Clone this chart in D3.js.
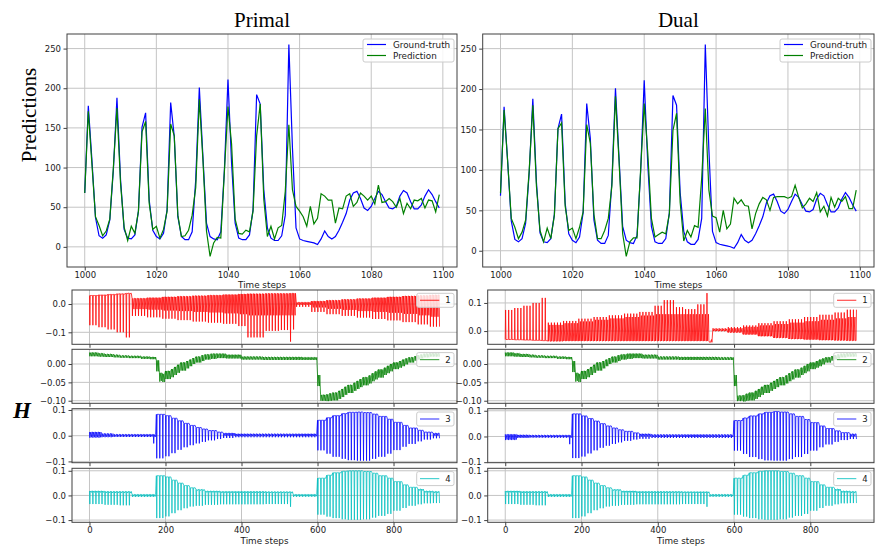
<!DOCTYPE html>
<html>
<head>
<meta charset="utf-8">
<script src="https://cdn.jsdelivr.net/npm/d3@7"></script>
<style>
  body { margin: 0; background: #fff; }
  svg { display: block; }
</style>
</head>
<body>
<svg id="fig" width="887" height="551"></svg>
<script>
// ---- top plots: time steps 1000..1099 ----
const firstStep = 1000;
const groundTruth = [68, 178, 110, 37, 14, 11, 15, 34, 97, 188,
  85, 22, 11, 10, 15, 45, 151, 169, 59, 21,
  13, 10, 17, 47, 182, 139, 38, 13, 9, 9,
  19, 85, 201, 114, 30, 13, 10, 9, 19, 97,
  211, 106, 30, 11, 9, 9, 15, 47, 192, 180,
  72, 24, 11, 8, 8, 14, 40, 255, 125, 24,
  10, 8, 7, 6, 5, 3, 10, 20, 13, 10,
  13, 21, 31, 42, 59, 68, 70, 61, 49, 46,
  51, 61, 70, 66, 57, 49, 48, 51, 64, 71,
  68, 57, 48, 48, 53, 64, 72, 66, 57, 49];
const predPrimal = [68, 171, 105, 38, 27, 14, 20, 35, 100, 175,
  80, 25, 8, 26, 17, 45, 145, 158, 55, 22,
  26, 11, 22, 45, 155, 140, 40, 13, 14, 21,
  40, 75, 186, 110, 20, -12, 5, 12, 11, 95,
  177, 130, 35, 17, 16, 21, 19, 45, 140, 180,
  60, 13, 26, 10, 24, 27, 70, 154, 72, 51,
  45, 38, 26, 51, 29, 36, 67, 64, 59, 59,
  30, 49, 48, 64, 67, 51, 56, 68, 64, 59,
  64, 54, 78, 56, 57, 61, 57, 50, 61, 42,
  55, 48, 59, 58, 61, 49, 59, 58, 44, 66];
const predDual = [71, 174, 110, 40, 29, 15, 23, 38, 100, 180,
  80, 25, 11, 28, 15, 44, 151, 158, 55, 25,
  28, 15, 29, 48, 156, 133, 45, 15, 15, 25,
  40, 80, 191, 110, 21, -7, 11, 16, 16, 100,
  182, 120, 40, 17, 20, 23, 21, 46, 149, 170,
  60, 12, 25, 17, 31, 29, 90, 176, 75, 43,
  41, 23, 50, 27, 33, 65, 58, 63, 56, 55,
  27, 46, 58, 66, 63, 50, 66, 67, 67, 67,
  65, 67, 81, 66, 53, 58, 65, 61, 72, 48,
  55, 43, 66, 54, 65, 61, 67, 52, 52, 75];
const topXTicks = [1000, 1020, 1040, 1060, 1080, 1100];
const topYTicks = [0, 50, 100, 150, 200, 250];

// ---- hidden state panels: time steps 0..921 ----
// rows: [from step, base level, inner dip, spike extreme]
const hLast = 921;
const hPeriod = 8;
const hPattern = [[0, 'base'], [1, 'spike'], [2, 'base'], [5, 'mid'], [6, 'base']];
const hXTicks = [0, 200, 400, 600, 800];

const h1Primal = [
  [0, 0.030, 0.030, -0.075], [24, 0.032, 0.031, -0.082], [48, 0.034, 0.033, -0.090],
  [72, 0.036, 0.035, -0.100], [96, 0.038, 0.037, -0.118], [110, 0.020, -0.018, -0.042],
  [150, 0.022, -0.020, -0.047], [190, 0.025, -0.023, -0.052], [230, 0.027, -0.025, -0.057],
  [270, 0.029, -0.028, -0.062], [310, 0.031, -0.030, -0.066], [350, 0.033, -0.033, -0.070],
  [390, 0.035, -0.036, -0.078], [412, 0.036, -0.040, -0.118], [460, 0.037, -0.040, -0.095],
  [500, 0.037, -0.040, -0.092], [526, 0.038, -0.040, -0.133], [536, 0.038, -0.040, -0.090],
  [544, 0.006, -0.003, -0.010], [580, 0.010, -0.012, -0.028], [620, 0.013, -0.017, -0.036],
  [660, 0.016, -0.021, -0.042], [700, 0.019, -0.025, -0.048], [740, 0.022, -0.028, -0.053],
  [780, 0.025, -0.031, -0.058], [820, 0.028, -0.035, -0.064], [860, 0.030, -0.040, -0.072],
  [890, 0.032, -0.045, -0.080]];
const h2Primal = [
  [0, 0.031, 0.021, 0.021], [20, 0.029, 0.020, 0.020], [40, 0.027, 0.019, 0.019],
  [60, 0.025, 0.018, 0.018], [80, 0.023, 0.017, 0.017], [100, 0.022, 0.016, 0.016],
  [130, 0.020, 0.014, 0.014], [160, 0.019, 0.013, 0.013], [176, 0.010, -0.020, -0.020],
  [184, -0.024, -0.046, -0.048], [190, -0.027, -0.049, -0.049], [200, -0.019, -0.041, -0.041],
  [210, -0.014, -0.036, -0.036], [220, -0.008, -0.030, -0.030], [230, -0.002, -0.024, -0.024],
  [240, 0.004, -0.018, -0.018], [250, 0.008, -0.012, -0.012], [260, 0.012, -0.006, -0.006],
  [270, 0.016, 0.000, 0.000], [280, 0.020, 0.004, 0.004], [290, 0.024, 0.008, 0.008],
  [300, 0.026, 0.012, 0.012], [315, 0.028, 0.014, 0.014], [330, 0.028, 0.016, 0.016],
  [360, 0.025, 0.015, 0.015], [400, 0.020, 0.012, 0.012], [450, 0.019, 0.011, 0.011],
  [560, 0.018, 0.011, 0.011], [600, -0.030, -0.060, -0.060], [608, -0.084, -0.100, -0.100],
  [620, -0.083, -0.101, -0.101], [630, -0.080, -0.100, -0.100], [640, -0.078, -0.099, -0.099],
  [650, -0.073, -0.095, -0.095], [660, -0.068, -0.090, -0.090], [670, -0.062, -0.084, -0.084],
  [680, -0.057, -0.079, -0.079], [690, -0.051, -0.073, -0.073], [700, -0.046, -0.068, -0.068],
  [710, -0.041, -0.063, -0.063], [720, -0.036, -0.058, -0.058], [730, -0.031, -0.053, -0.053],
  [740, -0.025, -0.047, -0.047], [750, -0.020, -0.042, -0.042], [760, -0.015, -0.037, -0.037],
  [770, -0.010, -0.030, -0.030], [780, -0.005, -0.025, -0.025], [790, 0.000, -0.020, -0.020],
  [800, 0.004, -0.014, -0.014], [810, 0.008, -0.010, -0.010], [820, 0.012, -0.006, -0.006],
  [830, 0.015, -0.001, -0.001], [840, 0.018, 0.004, 0.004], [850, 0.021, 0.009, 0.009],
  [860, 0.024, 0.012, 0.012], [870, 0.026, 0.015, 0.015], [880, 0.028, 0.018, 0.018],
  [895, 0.029, 0.020, 0.020]];
const h3Primal = [
  [0, 0.014, -0.006, -0.008], [30, 0.008, -0.004, -0.006], [60, 0.005, -0.003, -0.005],
  [168, 0.005, -0.005, -0.030], [176, 0.083, 0.083, -0.088], [200, 0.078, 0.078, -0.080],
  [216, 0.068, 0.068, -0.068], [232, 0.058, 0.058, -0.055], [248, 0.048, 0.048, -0.045],
  [264, 0.040, 0.040, -0.037], [280, 0.032, 0.032, -0.030], [296, 0.026, 0.026, -0.024],
  [312, 0.020, 0.020, -0.018], [330, 0.014, 0.014, -0.013], [350, 0.010, 0.000, -0.009],
  [380, 0.007, -0.002, -0.006], [600, 0.060, 0.060, -0.057], [620, 0.070, 0.070, -0.070],
  [640, 0.078, 0.078, -0.082], [660, 0.086, 0.086, -0.090], [680, 0.091, 0.091, -0.095],
  [700, 0.092, 0.092, -0.097], [720, 0.090, 0.090, -0.097], [740, 0.084, 0.084, -0.090],
  [760, 0.075, 0.075, -0.082], [780, 0.064, 0.064, -0.070], [800, 0.052, 0.052, -0.056],
  [820, 0.040, 0.040, -0.043], [840, 0.030, 0.030, -0.032], [860, 0.021, 0.021, -0.022],
  [880, 0.014, 0.014, -0.015], [900, 0.010, 0.000, -0.010]];
const h4Primal = [
  [0, 0.018, 0.012, -0.035], [40, 0.016, 0.010, -0.038], [80, 0.016, 0.010, -0.040],
  [108, 0.004, -0.004, -0.006], [176, 0.080, 0.080, -0.092], [200, 0.075, 0.075, -0.085],
  [216, 0.062, 0.062, -0.072], [232, 0.050, 0.050, -0.060], [248, 0.040, 0.040, -0.052],
  [264, 0.031, 0.031, -0.045], [280, 0.024, 0.020, -0.042], [300, 0.018, 0.012, -0.038],
  [340, 0.016, 0.010, -0.036], [460, 0.015, 0.010, -0.035], [526, 0.015, 0.010, -0.046],
  [536, 0.004, -0.003, -0.006], [600, 0.070, 0.070, -0.078], [620, 0.082, 0.082, -0.086],
  [640, 0.092, 0.092, -0.092], [660, 0.098, 0.098, -0.097], [680, 0.100, 0.100, -0.099],
  [720, 0.097, 0.097, -0.097], [740, 0.090, 0.090, -0.090], [760, 0.080, 0.080, -0.083],
  [780, 0.070, 0.070, -0.075], [800, 0.056, 0.056, -0.062], [820, 0.043, 0.043, -0.051],
  [840, 0.033, 0.033, -0.042], [860, 0.026, 0.020, -0.036], [880, 0.018, 0.012, -0.032],
  [900, 0.016, 0.010, -0.031]];

const h1Dual = [
  [0, -0.030, -0.030, 0.075], [24, -0.031, -0.031, 0.082], [48, -0.032, -0.032, 0.090],
  [72, -0.033, -0.033, 0.100], [96, -0.034, -0.034, 0.118], [110, -0.036, 0.022, 0.030],
  [150, -0.035, 0.028, 0.036], [190, -0.035, 0.034, 0.044], [230, -0.035, 0.040, 0.050],
  [270, -0.035, 0.045, 0.056], [310, -0.035, 0.050, 0.062], [350, -0.035, 0.055, 0.068],
  [390, -0.035, 0.060, 0.090], [410, -0.035, 0.060, 0.110], [445, -0.035, 0.060, 0.085],
  [470, -0.035, 0.060, 0.078], [500, -0.035, 0.060, 0.095], [526, -0.035, 0.060, 0.135],
  [536, -0.040, -0.030, -0.040], [544, 0.000, 0.008, 0.010], [580, -0.005, 0.010, 0.014],
  [620, -0.012, 0.015, 0.020], [660, -0.018, 0.020, 0.028], [700, -0.024, 0.025, 0.035],
  [740, -0.028, 0.030, 0.042], [780, -0.030, 0.035, 0.050], [820, -0.032, 0.040, 0.058],
  [860, -0.033, 0.045, 0.066], [890, -0.034, 0.050, 0.076]];
const h2Dual = [
  [0, 0.031, 0.021, 0.021], [20, 0.029, 0.020, 0.020], [40, 0.027, 0.019, 0.019],
  [60, 0.025, 0.018, 0.018], [80, 0.023, 0.017, 0.017], [100, 0.022, 0.016, 0.016],
  [130, 0.020, 0.014, 0.014], [160, 0.019, 0.013, 0.013], [172, 0.008, -0.022, -0.022],
  [180, -0.024, -0.046, -0.048], [188, -0.027, -0.049, -0.049], [200, -0.019, -0.041, -0.041],
  [210, -0.014, -0.036, -0.036], [220, -0.008, -0.030, -0.030], [230, -0.002, -0.024, -0.024],
  [240, 0.004, -0.018, -0.018], [250, 0.008, -0.012, -0.012], [260, 0.012, -0.006, -0.006],
  [270, 0.016, 0.000, 0.000], [280, 0.020, 0.004, 0.004], [290, 0.024, 0.008, 0.008],
  [300, 0.026, 0.012, 0.012], [315, 0.028, 0.014, 0.014], [330, 0.028, 0.016, 0.016],
  [360, 0.025, 0.015, 0.015], [400, 0.020, 0.012, 0.012], [450, 0.019, 0.011, 0.011],
  [560, 0.018, 0.011, 0.011], [600, -0.030, -0.060, -0.060], [608, -0.086, -0.100, -0.101],
  [620, -0.085, -0.102, -0.102], [630, -0.081, -0.100, -0.100], [640, -0.078, -0.099, -0.099],
  [650, -0.073, -0.095, -0.095], [660, -0.068, -0.090, -0.090], [670, -0.062, -0.084, -0.084],
  [680, -0.057, -0.079, -0.079], [690, -0.051, -0.073, -0.073], [700, -0.046, -0.068, -0.068],
  [710, -0.041, -0.063, -0.063], [720, -0.036, -0.058, -0.058], [730, -0.031, -0.053, -0.053],
  [740, -0.025, -0.047, -0.047], [750, -0.020, -0.042, -0.042], [760, -0.015, -0.037, -0.037],
  [770, -0.010, -0.030, -0.030], [780, -0.005, -0.025, -0.025], [790, 0.000, -0.020, -0.020],
  [800, 0.004, -0.014, -0.014], [810, 0.008, -0.010, -0.010], [820, 0.012, -0.006, -0.006],
  [830, 0.015, -0.001, -0.001], [840, 0.018, 0.004, 0.004], [850, 0.021, 0.009, 0.009],
  [860, 0.024, 0.012, 0.012], [870, 0.026, 0.015, 0.015], [880, 0.028, 0.018, 0.018],
  [895, 0.029, 0.020, 0.020]];
const h3Dual = [
  [0, 0.008, -0.012, -0.014], [30, 0.006, -0.004, -0.006], [60, 0.005, -0.003, -0.005],
  [168, 0.005, -0.005, -0.030], [176, 0.088, 0.088, -0.084], [200, 0.080, 0.080, -0.078],
  [216, 0.070, 0.070, -0.066], [232, 0.060, 0.060, -0.054], [248, 0.050, 0.050, -0.044],
  [264, 0.041, 0.041, -0.036], [280, 0.033, 0.033, -0.029], [296, 0.026, 0.026, -0.023],
  [312, 0.020, 0.020, -0.017], [330, 0.014, 0.014, -0.012], [350, 0.010, 0.000, -0.009],
  [380, 0.007, -0.002, -0.006], [600, 0.062, 0.062, -0.055], [620, 0.072, 0.072, -0.068],
  [640, 0.080, 0.080, -0.080], [660, 0.088, 0.088, -0.088], [680, 0.094, 0.094, -0.093],
  [700, 0.097, 0.097, -0.094], [720, 0.095, 0.095, -0.094], [740, 0.088, 0.088, -0.088],
  [760, 0.078, 0.078, -0.080], [780, 0.066, 0.066, -0.068], [800, 0.054, 0.054, -0.055],
  [820, 0.041, 0.041, -0.042], [840, 0.031, 0.031, -0.031], [860, 0.022, 0.022, -0.021],
  [880, 0.015, 0.015, -0.014], [900, 0.010, 0.000, -0.010]];
const h4Dual = [
  [0, 0.018, 0.012, -0.035], [40, 0.016, 0.010, -0.038], [80, 0.016, 0.010, -0.040],
  [108, 0.004, -0.004, -0.006], [176, 0.080, 0.080, -0.092], [200, 0.075, 0.075, -0.085],
  [216, 0.062, 0.062, -0.072], [232, 0.050, 0.050, -0.060], [248, 0.040, 0.040, -0.052],
  [264, 0.031, 0.031, -0.045], [280, 0.024, 0.020, -0.042], [300, 0.018, 0.012, -0.038],
  [340, 0.016, 0.010, -0.036], [460, 0.015, 0.010, -0.035], [526, 0.015, 0.010, -0.046],
  [536, 0.004, -0.003, -0.006], [600, 0.070, 0.070, -0.078], [620, 0.082, 0.082, -0.086],
  [640, 0.092, 0.092, -0.092], [660, 0.098, 0.098, -0.097], [680, 0.100, 0.100, -0.099],
  [720, 0.097, 0.097, -0.097], [740, 0.090, 0.090, -0.090], [760, 0.080, 0.080, -0.083],
  [780, 0.070, 0.070, -0.075], [800, 0.056, 0.056, -0.062], [820, 0.043, 0.043, -0.051],
  [840, 0.033, 0.033, -0.042], [860, 0.026, 0.020, -0.036], [880, 0.018, 0.012, -0.032],
  [900, 0.016, 0.010, -0.031]];

const svg = d3.select('#fig');
const tickFont = 'DejaVu Sans, sans-serif';
const serif = 'Liberation Serif, Times New Roman, serif';
const gridColor = '#c4c4c4';
const spineColor = '#404040';

function frame(g, x0, x1, y0, y1) {
  g.append('rect').attr('x', x0).attr('y', y0)
    .attr('width', x1 - x0).attr('height', y1 - y0)
    .attr('fill', 'none').attr('stroke', spineColor).attr('stroke-width', 1);
}

function grid(g, x, y, xt, yt) {
  const [x0, x1] = x.range();
  const [y1, y0] = y.range();
  g.selectAll(null).data(xt).enter().append('line')
    .attr('x1', d => x(d)).attr('x2', d => x(d)).attr('y1', y0).attr('y2', y1)
    .attr('stroke', gridColor).attr('stroke-width', 1);
  g.selectAll(null).data(yt).enter().append('line')
    .attr('x1', x0).attr('x2', x1).attr('y1', d => y(d)).attr('y2', d => y(d))
    .attr('stroke', gridColor).attr('stroke-width', 1);
}

function axes(g, x, y, xt, yt, xfmt, yfmt, showX) {
  const [y1] = y.range();
  const [x0] = x.range();
  const ax = g.append('g').attr('transform', `translate(0,${y1})`)
    .call(d3.axisBottom(x).tickValues(xt).tickSize(3.5).tickPadding(1.5)
      .tickFormat(showX ? xfmt : () => ''));
  const ay = g.append('g').attr('transform', `translate(${x0},0)`)
    .call(d3.axisLeft(y).tickValues(yt).tickSize(3.5).tickPadding(2.5).tickFormat(yfmt));
  [ax, ay].forEach(a => {
    a.select('.domain').remove();
    a.selectAll('line').attr('stroke', spineColor);
    a.selectAll('text').attr('font-family', tickFont).attr('font-size', 8.5).attr('fill', '#1a1a1a');
  });
}

function drawTop(cfg) {
  const g = svg.append('g');
  const x = d3.scaleLinear().domain([995.05, 1103.95]).range([cfg.x0, cfg.x1]);
  const y = d3.scaleLinear().domain(cfg.yDomain).range([267, 34]);
  grid(g, x, y, topXTicks, topYTicks);
  const line = d3.line().x((d, i) => x(firstStep + i)).y(d => y(d));
  g.append('path').datum(groundTruth).attr('d', line)
    .attr('fill', 'none').attr('stroke', '#0000ff').attr('stroke-width', 1.2);
  g.append('path').datum(cfg.pred).attr('d', line)
    .attr('fill', 'none').attr('stroke', '#008000').attr('stroke-width', 1.2);
  frame(g, cfg.x0, cfg.x1, 34, 267);
  axes(g, x, y, topXTicks, topYTicks, d3.format('d'), d3.format('d'), true);

  // legend
  const lx = cfg.x1 - 94, ly = 39;
  g.append('rect').attr('x', lx).attr('y', ly).attr('width', 91).attr('height', 23)
    .attr('rx', 2).attr('fill', 'white').attr('fill-opacity', 0.85).attr('stroke', '#cccccc');
  [['Ground-truth', '#0000ff'], ['Prediction', '#008000']].forEach(([name, c], i) => {
    const yy = ly + 5.5 + i * 11;
    g.append('line').attr('x1', lx + 4).attr('x2', lx + 23).attr('y1', yy).attr('y2', yy)
      .attr('stroke', c).attr('stroke-width', 1.2);
    g.append('text').attr('x', lx + 30).attr('y', yy + 3).text(name)
      .attr('font-family', tickFont).attr('font-size', 8.8).attr('fill', '#1a1a1a');
  });

  g.append('text').attr('x', (cfg.x0 + cfg.x1) / 2).attr('y', 27).attr('text-anchor', 'middle')
    .attr('font-family', serif).attr('font-size', 21).text(cfg.title);
  g.append('text').attr('x', (cfg.x0 + cfg.x1) / 2).attr('y', 288).attr('text-anchor', 'middle')
    .attr('font-family', tickFont).attr('font-size', 8.8).attr('fill', '#1a1a1a').text('Time steps');
}

function hPoints(rows) {
  const pts = [];
  let r = 0;
  for (let start = 0; start <= hLast; start += hPeriod) {
    while (r + 1 < rows.length && rows[r + 1][0] <= start) r++;
    const row = { base: rows[r][1], mid: rows[r][2], spike: rows[r][3] };
    hPattern.forEach(([off, key]) => {
      if (start + off <= hLast) pts.push([start + off, row[key]]);
    });
  }
  return pts;
}

const hRowsY = [[290, 344.3], [349.3, 403.3], [408.7, 462.7], [468.3, 522.3]];

function drawH(cfg) {
  const x = d3.scaleLinear().domain([-46, 967]).range([cfg.x0, cfg.x1]);
  cfg.panels.forEach((p, i) => {
    const [top, bot] = hRowsY[i];
    const g = svg.append('g');
    const y = d3.scaleLinear().domain(p.yDomain).range([bot, top]);
    grid(g, x, y, hXTicks, p.yTicks);
    const line = d3.line().x(d => x(d[0])).y(d => y(d[1]));
    g.append('path').datum(hPoints(p.rows)).attr('d', line)
      .attr('fill', 'none').attr('stroke', p.color).attr('stroke-width', 0.9)
      .attr('stroke-opacity', 0.85);
    frame(g, cfg.x0, cfg.x1, top, bot);
    axes(g, x, y, hXTicks, p.yTicks, d3.format('d'), d3.format(p.fmt), i === 3);

    const lx = cfg.x1 - 40.3, ly = top + 3.3;
    g.append('rect').attr('x', lx).attr('y', ly).attr('width', 37.3).attr('height', 14)
      .attr('rx', 2).attr('fill', 'white').attr('fill-opacity', 0.8).attr('stroke', '#cccccc');
    g.append('line').attr('x1', lx + 3.3).attr('x2', lx + 22.6).attr('y1', ly + 7).attr('y2', ly + 7)
      .attr('stroke', p.color).attr('stroke-opacity', 0.7).attr('stroke-width', 1.2);
    g.append('text').attr('x', lx + 31.3).attr('y', ly + 10).attr('text-anchor', 'middle')
      .attr('font-family', tickFont).attr('font-size', 8.5).attr('fill', '#1a1a1a').text(p.label);
  });
  svg.append('text').attr('x', (cfg.x0 + cfg.x1) / 2).attr('y', 544).attr('text-anchor', 'middle')
    .attr('font-family', tickFont).attr('font-size', 8.8).attr('fill', '#1a1a1a').text('Time steps');
}

drawTop({ title: 'Primal', pred: predPrimal, x0: 67, x1: 457, yDomain: [-25.4, 268.4] });
drawTop({ title: 'Dual', pred: predDual, x0: 482.7, x1: 874, yDomain: [-20.1, 268.1] });

drawH({ x0: 72, x1: 457, panels: [
  { rows: h1Primal, color: '#ff0000', label: '1', yDomain: [-0.1424, 0.0495], yTicks: [-0.1, 0], fmt: '.1f' },
  { rows: h2Primal, color: '#008000', label: '2', yDomain: [-0.107, 0.040], yTicks: [-0.1, -0.05, 0], fmt: '.2f' },
  { rows: h3Primal, color: '#0000ff', label: '3', yDomain: [-0.105, 0.105], yTicks: [-0.1, 0, 0.1], fmt: '.1f' },
  { rows: h4Primal, color: '#00bfbf', label: '4', yDomain: [-0.109, 0.110], yTicks: [-0.1, 0, 0.1], fmt: '.1f' }
] });
drawH({ x0: 487.7, x1: 874, panels: [
  { rows: h1Dual, color: '#ff0000', label: '1', yDomain: [-0.047, 0.146], yTicks: [0, 0.1], fmt: '.1f' },
  { rows: h2Dual, color: '#008000', label: '2', yDomain: [-0.107, 0.040], yTicks: [-0.1, -0.05, 0], fmt: '.2f' },
  { rows: h3Dual, color: '#0000ff', label: '3', yDomain: [-0.102, 0.108], yTicks: [-0.1, 0, 0.1], fmt: '.1f' },
  { rows: h4Dual, color: '#00bfbf', label: '4', yDomain: [-0.109, 0.110], yTicks: [-0.1, 0, 0.1], fmt: '.1f' }
] });

svg.append('text').attr('transform', 'translate(35.5,115) rotate(-90)').attr('text-anchor', 'middle')
  .attr('font-family', serif).attr('font-size', 21).text('Predictions');
svg.append('text').attr('x', 13).attr('y', 418)
  .attr('font-family', serif).attr('font-size', 23).attr('font-weight', 'bold')
  .attr('font-style', 'italic').text('H');
</script>
</body>
</html>
